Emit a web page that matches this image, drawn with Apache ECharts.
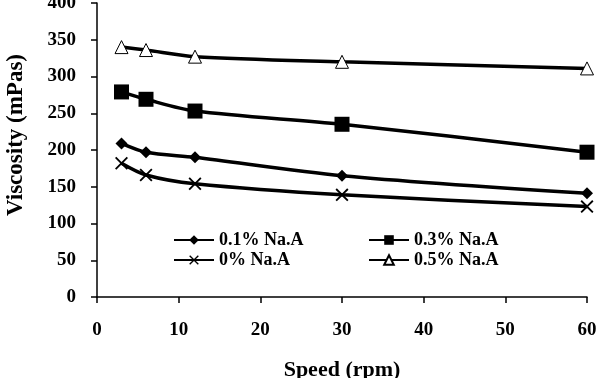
<!DOCTYPE html>
<html>
<head>
<meta charset="utf-8">
<script src="https://cdn.jsdelivr.net/npm/echarts@6/dist/echarts.min.js"></script>
<style>
  html, body { margin: 0; padding: 0; background: #fff; }
  #main { width: 602px; height: 378px; }
</style>
</head>
<body>
<div id="main"></div>
<script>
// speed (rpm)
var speeds = [3, 6, 12, 30, 60];
// viscosity (mPas) per Na.A concentration
var na01 = [209, 197, 190, 165, 141];
var na03 = [279, 269, 253, 235, 197];
var na00 = [182, 166, 154, 139, 123];
var na05 = [340, 336, 327, 320, 311];

var yTicks = [0, 50, 100, 150, 200, 250, 300, 350, 400];
var xTicks = [0, 10, 20, 30, 40, 50, 60];

var font = 'Liberation Serif';
var crossPath = 'path://M0,1L1,0L5,4L9,0L10,1L6,5L10,9L9,10L5,6L1,10L0,9L4,5Z';

function pairs(ys) {
    return speeds.map(function (x, i) { return [x, ys[i]]; });
}

function mkSeries(name, ys, symbol, size, fill) {
    return {
        name: name,
        type: 'line',
        data: pairs(ys),
        smooth: 0.3,
        symbol: symbol,
        symbolSize: size,
        showAllSymbol: true,
        lineStyle: { color: '#000', width: 3.5 },
        itemStyle: { color: fill, borderColor: '#000', borderWidth: fill === '#fff' ? 1 : 0 },
        emphasis: { disabled: true }
    };
}

var legendText = { fontFamily: font, fontWeight: 'bold', fontSize: 18, color: '#000' };

var myChart = echarts.init(document.getElementById('main'));
myChart.setOption({
    animation: false,
    backgroundColor: '#fff',
    grid: { left: 97, right: 15, top: 3, bottom: 81, outerBoundsMode: 'none' },
    legend: [
        {
            data: ['0.1% Na.A', '0% Na.A'],
            orient: 'vertical',
            left: 168, top: 226,
            itemWidth: 40, itemHeight: 12, itemGap: 2,
            textStyle: legendText
        },
        {
            data: ['0.3% Na.A', '0.5% Na.A'],
            orient: 'vertical',
            left: 363, top: 226,
            itemWidth: 40, itemHeight: 12, itemGap: 2,
            textStyle: legendText
        }
    ],
    xAxis: {
        type: 'value',
        min: 0, max: 60, interval: 10,
        name: 'Speed (rpm)',
        nameLocation: 'middle',
        nameGap: 62,
        nameTextStyle: { fontFamily: font, fontWeight: 'bold', fontSize: 22, color: '#000' },
        axisLine: { lineStyle: { color: '#000', width: 1.5 } },
        axisTick: { inside: false, length: 6, lineStyle: { color: '#000', width: 1.5 } },
        axisLabel: { fontFamily: font, fontWeight: 'bold', fontSize: 19, color: '#000', margin: 24,
            formatter: function (v) { return xTicks.indexOf(v) >= 0 ? v : ''; } },
        splitLine: { show: false }
    },
    yAxis: {
        type: 'value',
        min: 0, max: 400, interval: 50,
        name: 'Viscosity (mPas)',
        nameLocation: 'middle',
        nameGap: 69,
        nameRotate: 90,
        nameTextStyle: { fontFamily: font, fontWeight: 'bold', fontSize: 23, color: '#000', padding: [0, 0, 0, 30] },
        axisLine: { show: true, lineStyle: { color: '#000', width: 1.5 } },
        axisTick: { show: true, inside: false, length: 6, lineStyle: { color: '#000', width: 1.5 } },
        axisLabel: { fontFamily: font, fontWeight: 'bold', fontSize: 19, color: '#000', margin: 21,
            formatter: function (v) { return yTicks.indexOf(v) >= 0 ? v : ''; } },
        splitLine: { show: false }
    },
    series: [
        mkSeries('0.1% Na.A', na01, 'diamond', 12, '#000'),
        mkSeries('0.3% Na.A', na03, 'rect', 15, '#000'),
        mkSeries('0% Na.A', na00, crossPath, 13, '#000'),
        mkSeries('0.5% Na.A', na05, 'triangle', 13, '#fff')
    ]
});
</script>
</body>
</html>
